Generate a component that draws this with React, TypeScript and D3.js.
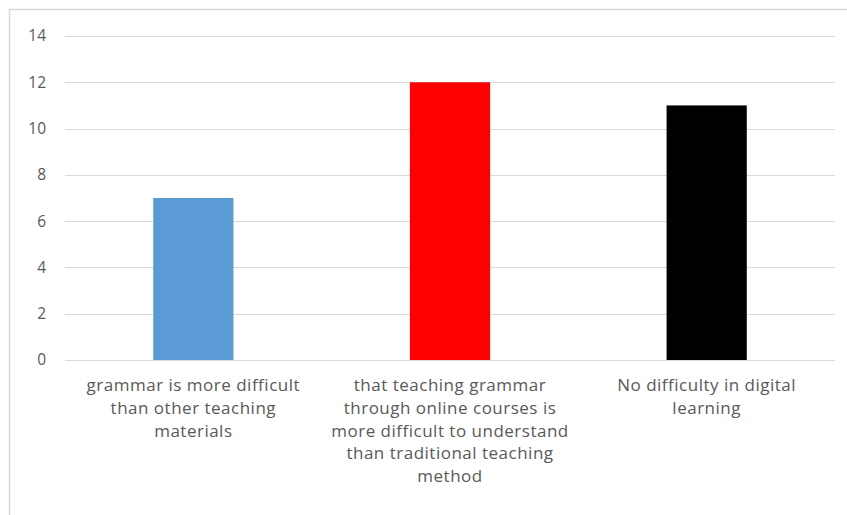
import React from "react";
import * as d3 from "d3";

const categories = [
  ["grammar is more difficult", "than other teaching", "materials"],
  ["that teaching grammar", "through online courses is", "more difficult to understand", "than traditional teaching", "method"],
  ["No difficulty in digital", "learning"],
];
const values = [7, 12, 11];
const colors = ["#5B9BD5", "#FF0000", "#000000"];
const yTicks = [0, 2, 4, 6, 8, 10, 12, 14];

export default function App() {
  const W = 847, H = 515;
  const left = 65, right = 835, top = 36, bottom = 360;
  const x = d3.scaleBand<number>().domain(d3.range(values.length)).range([left, right]).paddingInner(0.6875).paddingOuter(0.34375);
  const y = d3.scaleLinear().domain([0, 14]).range([bottom, top]);
  const font = "'Open Sans', 'DejaVu Sans', sans-serif";
  return (
    <svg width={W} height={H} style={{ position: "absolute", left: 0, top: 0 }}>
      <rect x={0} y={0} width={W} height={H} fill="#fff" />
      <rect x={9.5} y={9.5} width={W + 10} height={H + 10} fill="none" stroke="#d9d9d9" strokeWidth={1.5} />
      {yTicks.map((t) => (
        <g key={t}>
          <line x1={left} x2={right} y1={Math.round(y(t)) + 0.5} y2={Math.round(y(t)) + 0.5} stroke="#d9d9d9" strokeWidth={1} />
          <text x={46} y={y(t)} dy="0.35em" textAnchor="end" fontSize={15.5} fill="#595959" fontFamily={font}>{t}</text>
        </g>
      ))}
      {values.map((v, i) => (
        <rect key={i} x={x(i)} y={y(v)} width={x.bandwidth()} height={y(0) - y(v)} fill={colors[i]} />
      ))}
      {categories.map((lines, i) => (
        <text key={i} textAnchor="middle" fontSize={17} letterSpacing={0.5} fill="#595959" fontFamily={font}>
          {lines.map((l, j) => (
            <tspan key={j} x={x(i)! + x.bandwidth() / 2} y={391 + j * 22.8}>{l}</tspan>
          ))}
        </text>
      ))}
    </svg>
  );
}
